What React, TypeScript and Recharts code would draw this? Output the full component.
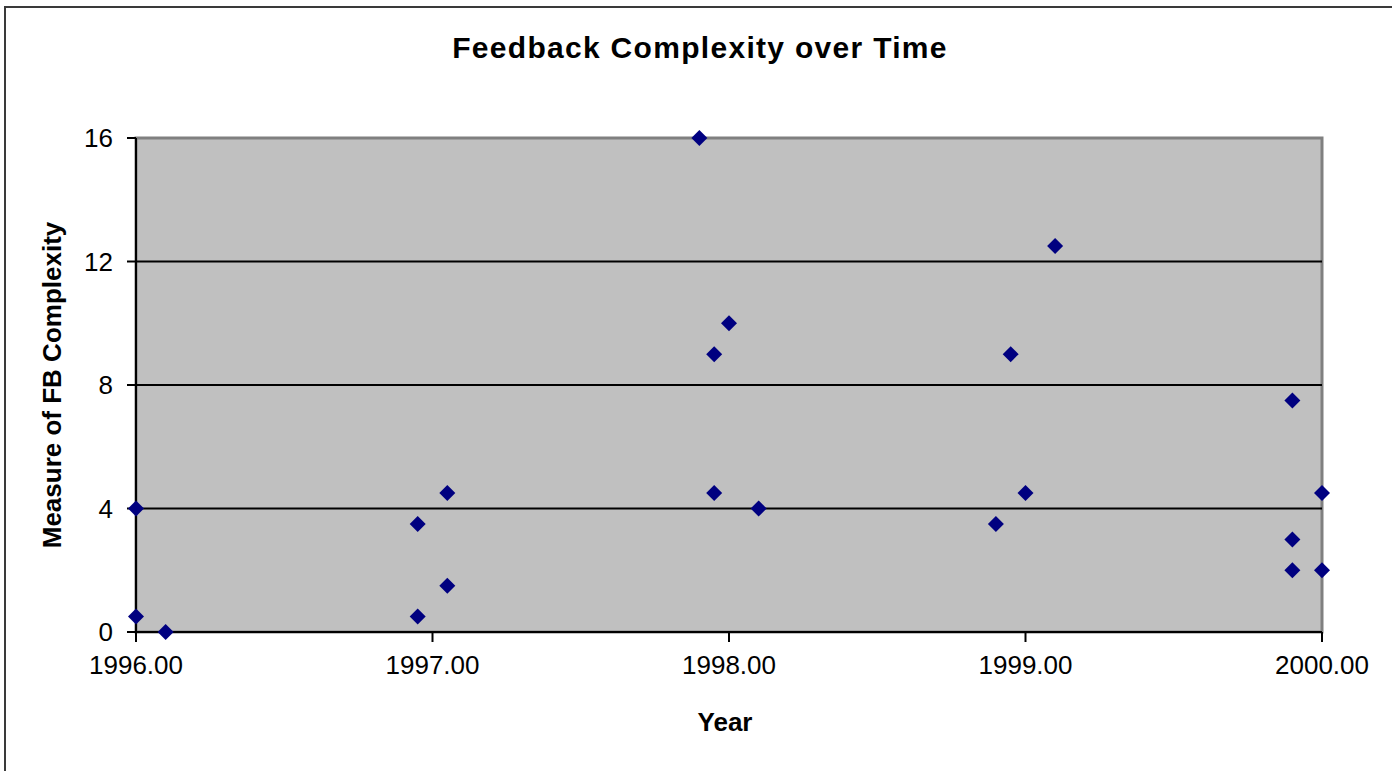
import React from "react";
import {
  ScatterChart,
  Scatter,
  XAxis,
  YAxis,
  ReferenceArea,
  ReferenceLine,
} from "recharts";

const years = [
  1996.0, 1996.0, 1996.1, 1996.95, 1996.95, 1997.05, 1997.05, 1997.9, 1997.95, 1997.95,
  1998.0, 1998.1, 1998.9, 1998.95, 1999.0, 1999.1, 1999.9, 1999.9, 1999.9, 2000.0, 2000.0,
];
const complexity = [
  0.5, 4, 0, 3.5, 0.5, 4.5, 1.5, 16, 9, 4.5,
  10, 4, 3.5, 9, 4.5, 12.5, 7.5, 3, 2, 4.5, 2,
];
const xTicks = [1996, 1997, 1998, 1999, 2000];
const yTicks = [0, 4, 8, 12, 16];
const gridLines = [4, 8, 12];

const data = years.map((x, i) => ({ x, y: complexity[i] }));

const FONT = 'Arial, "Liberation Sans", sans-serif';

const Diamond = (props: any) => {
  const { cx, cy } = props;
  const h = 8;
  return (
    <polygon
      points={`${cx},${cy - h} ${cx + h},${cy} ${cx},${cy + h} ${cx - h},${cy}`}
      fill="#000080"
    />
  );
};

export default function App() {
  return (
    <div
      style={{
        position: "fixed",
        left: 0,
        top: 0,
        width: 1392,
        height: 771,
        overflow: "hidden",
        background: "#fff",
      }}
    >
      <div
        style={{
          position: "absolute",
          left: 4,
          top: 6,
          width: 2000,
          height: 2000,
          border: "2px solid #3a3a3a",
        }}
      />
      <div
        style={{
          position: "absolute",
          left: 0,
          top: 0,
        }}
      >
        <ScatterChart
          width={1392}
          height={771}
          margin={{ top: 138, right: 70, left: 0, bottom: 0 }}
        >
          <ReferenceArea
            x1={1996}
            x2={2000}
            y1={0}
            y2={16}
            fill="#c0c0c0"
            fillOpacity={1}
            stroke="#808080"
            strokeWidth={3}
            ifOverflow="visible"
          />
          {gridLines.map((g) => (
            <ReferenceLine key={g} y={g} stroke="#000" strokeWidth={2} />
          ))}
          <XAxis
            type="number"
            dataKey="x"
            domain={[1996, 2000]}
            ticks={xTicks}
            tickFormatter={(v: number) => v.toFixed(2)}
            height={139}
            axisLine={{ stroke: "#000", strokeWidth: 2 }}
            tickLine={{ stroke: "#000", strokeWidth: 2 }}
            tickSize={10}
            tickMargin={14}
            tick={{ fill: "#000", fontSize: 26, fontFamily: FONT }}
            interval={0}
          />
          <YAxis
            type="number"
            dataKey="y"
            domain={[0, 16]}
            ticks={yTicks}
            width={136}
            axisLine={{ stroke: "#000", strokeWidth: 2 }}
            tickLine={{ stroke: "#000", strokeWidth: 2 }}
            tickSize={9}
            tickMargin={14}
            tick={{ fill: "#000", fontSize: 26, fontFamily: FONT }}
            interval={0}
          />
          <Scatter
            data={data}
            shape={Diamond}
            isAnimationActive={false}
          />
        </ScatterChart>
      </div>
      <div
        style={{
          position: "absolute",
          left: 0,
          width: 1400,
          top: 30,
          textAlign: "center",
          fontFamily: FONT,
          fontWeight: "bold",
          fontSize: 30,
          letterSpacing: 1.3,
          lineHeight: "36px",
          color: "#000",
        }}
      >
        Feedback Complexity over Time
      </div>
      <div
        style={{
          position: "absolute",
          left: 625,
          width: 200,
          top: 706,
          textAlign: "center",
          fontFamily: FONT,
          fontWeight: "bold",
          fontSize: 26,
          lineHeight: "32px",
          color: "#000",
        }}
      >
        Year
      </div>
      <div
        style={{
          position: "absolute",
          left: 52 - 200,
          top: 385 - 16,
          width: 400,
          textAlign: "center",
          fontFamily: FONT,
          fontWeight: "bold",
          fontSize: 26,
          lineHeight: "32px",
          color: "#000",
          transform: "rotate(-90deg)",
          transformOrigin: "50% 50%",
        }}
      >
        Measure of FB Complexity
      </div>
    </div>
  );
}
